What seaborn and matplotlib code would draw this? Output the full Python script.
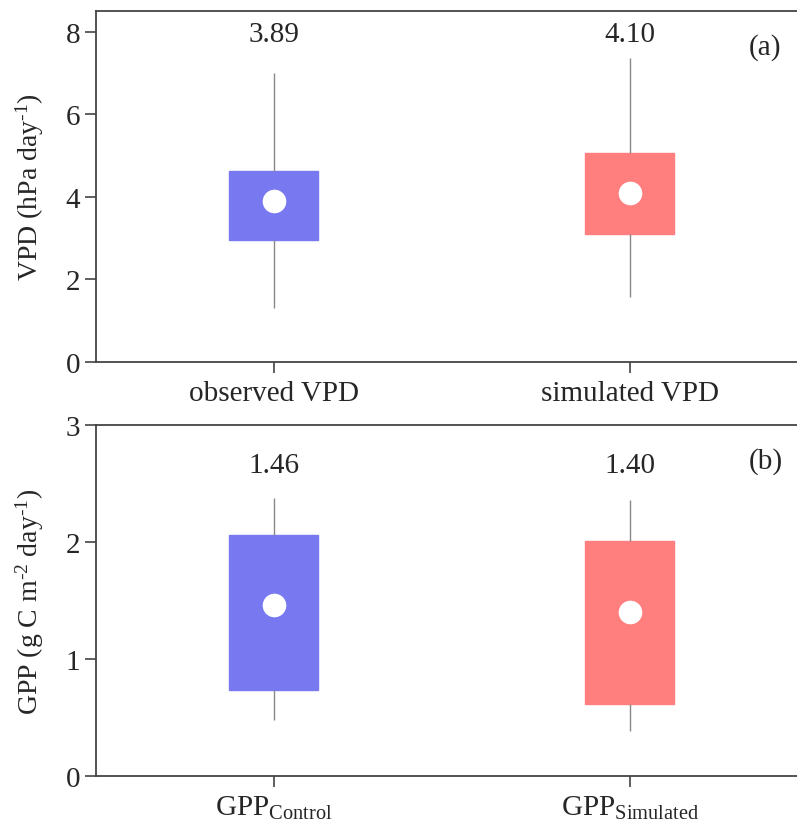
import numpy as np
import pandas as pd
import matplotlib.pyplot as plt
import seaborn as sns

# panel (a) VPD
vpd_cats = ["observed VPD", "simulated VPD"]
vpd_low = [1.31, 1.58]
vpd_q1 = [2.96, 3.10]
vpd_q3 = [4.63, 5.07]
vpd_high = [7.00, 7.35]
vpd_mean = [3.89, 4.10]

# panel (b) GPP
gpp_cats = ["GPP$_{\\mathrm{Control}}$", "GPP$_{\\mathrm{Simulated}}$"]
gpp_low = [0.48, 0.385]
gpp_q1 = [0.735, 0.615]
gpp_q3 = [2.06, 2.01]
gpp_high = [2.38, 2.36]
gpp_mean = [1.46, 1.40]

colors = ["#7878F0", "#FF7F7F"]

sns.set_style("ticks")
plt.rcParams["font.family"] = ["Liberation Serif", "DejaVu Serif"]
plt.rcParams["mathtext.fontset"] = "custom"
plt.rcParams["mathtext.rm"] = "Liberation Serif"
plt.rcParams["mathtext.it"] = "Liberation Serif:italic"


def long_form(cats, low, q1, mean, q3, high):
    rows = []
    for c, a, b, m, d, e in zip(cats, low, q1, mean, q3, high):
        for v in (a, b, m, d, e):
            rows.append({"cat": c, "val": v})
    return pd.DataFrame(rows)


def draw(ax, cats, low, q1, mean, q3, high, ylim, yticks, ylabel, label, text_y):
    df = long_form(cats, low, q1, mean, q3, high)
    sns.boxplot(data=df, x="cat", y="val", hue="cat", palette=colors, order=cats,
                width=0.25, whis=(0, 100), showcaps=False, legend=False, ax=ax,
                saturation=1, linecolor="#888888", linewidth=1,
                medianprops={"visible": False},
                whiskerprops={"color": "#888888", "linewidth": 1})
    for p, c in zip(ax.patches, colors):
        p.set_edgecolor(c)
    sns.stripplot(x=cats, y=mean, order=cats, jitter=False, color="white",
                  size=17, linewidth=0, ax=ax, zorder=5)
    for i, m in enumerate(mean):
        ax.text(i, text_y, f"{m:.2f}", ha="center", va="center", fontsize=21)
    ax.text(0.955, 0.9, label, transform=ax.transAxes, ha="center", va="center",
            fontsize=21)
    ax.set_ylim(*ylim)
    ax.set_yticks(yticks)
    ax.set_xlim(-0.5, 1.47)
    ax.set_xlabel("")
    ax.set_ylabel(ylabel, fontsize=20, labelpad=14)
    ax.tick_params(axis="both", labelsize=21, length=8, width=1.2, color="#444444")
    ax.tick_params(axis="x", labelsize=21, pad=5)
    ax.spines["right"].set_visible(False)
    for s in ("left", "top", "bottom"):
        ax.spines[s].set_color("#444444")
        ax.spines[s].set_linewidth(1.3)


fig = plt.figure(figsize=(7.97, 8.28), dpi=100)
ax1 = fig.add_axes([0.1205, 0.5616, 0.8795, 0.4239])
ax2 = fig.add_axes([0.1205, 0.0616, 0.8795, 0.4239])

draw(ax1, vpd_cats, vpd_low, vpd_q1, vpd_mean, vpd_q3, vpd_high,
     (0, 8.5), [0, 2, 4, 6, 8], "VPD (hPa day$^{\\text{-1}}$)", "(a)", 7.95)
draw(ax2, gpp_cats, gpp_low, gpp_q1, gpp_mean, gpp_q3, gpp_high,
     (0, 3), [0, 1, 2, 3], "GPP (g C m$^{\\text{-2}}$ day$^{\\text{-1}}$)", "(b)", 2.66)

fig.savefig("out.png", dpi=100)
